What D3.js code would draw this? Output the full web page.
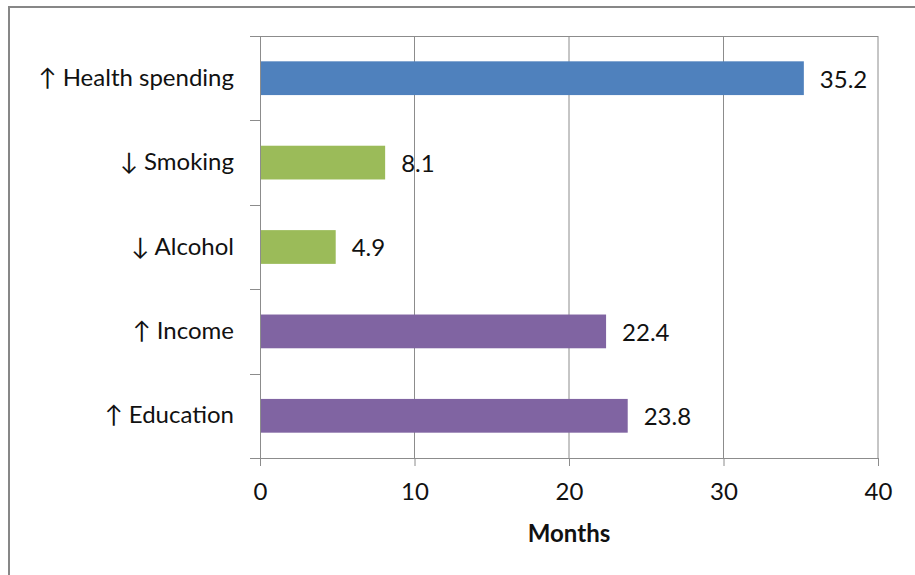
<!DOCTYPE html>
<html>
<head>
<meta charset="utf-8">
<script src="https://cdn.jsdelivr.net/npm/d3@7"></script>
<style>
  html, body { margin: 0; padding: 0; background: #fff; }
  svg { display: block; }
  text { font-family: Lato, "Open Sans", sans-serif; fill: #111; }
</style>
</head>
<body>
<svg id="chart" width="915" height="575"></svg>
<script>
// Months gained per factor
const categories = ["↑ Health spending", "↓ Smoking", "↓ Alcohol", "↑ Income", "↑ Education"];
const values = [35.2, 8.1, 4.9, 22.4, 23.8];
const barColors = ["#4F81BD", "#9BBB59", "#9BBB59", "#8064A2", "#8064A2"];
const xTicks = [0, 10, 20, 30, 40];
const xTitle = "Months";

const svg = d3.select("#chart");
const W = 915, H = 575;
const m = { left: 260, right: 37, top: 36, bottom: 117 };
const iw = W - m.left - m.right, ih = H - m.top - m.bottom;
const fontSize = 24;
const fontFamily = "Lato, 'Open Sans', sans-serif";

// outer frame
svg.append("rect")
  .attr("x", 9).attr("y", 7).attr("width", 920).attr("height", 590)
  .attr("fill", "none").attr("stroke", "#878787").attr("stroke-width", 2);

const x = d3.scaleLinear().domain([0, 40]).range([m.left, m.left + iw]);
const y = d3.scaleBand().domain(categories).range([m.top, m.top + ih]).paddingInner(0.6).paddingOuter(0.3);
const yb = d3.scaleBand().domain(categories).range([m.top, m.top + ih]);

const gridColor = "#8c8c8c";

// vertical gridlines
svg.append("g").selectAll("line").data(xTicks.slice(1)).join("line")
  .attr("x1", d => x(d)).attr("x2", d => x(d))
  .attr("y1", m.top).attr("y2", m.top + ih)
  .attr("stroke", gridColor).attr("stroke-width", 1);

// top edge of plot area
svg.append("line")
  .attr("x1", m.left - 10).attr("x2", x(40))
  .attr("y1", m.top + 0.5).attr("y2", m.top + 0.5)
  .attr("stroke", gridColor);

// bars
svg.append("g").selectAll("rect").data(categories).join("rect")
  .attr("x", x(0)).attr("y", d => y(d))
  .attr("width", (d, i) => x(values[i]) - x(0))
  .attr("height", y.bandwidth())
  .attr("fill", (d, i) => barColors[i]);

// value labels
svg.append("g").selectAll("text").data(categories).join("text")
  .attr("x", (d, i) => x(values[i]) + 16)
  .attr("y", d => y(d) + y.bandwidth() / 2 + 1)
  .attr("dy", "0.35em")
  .attr("font-size", fontSize)
  .text((d, i) => values[i].toFixed(1));

// category axis
const yAxis = d3.axisLeft(yb).tickSize(0).tickPadding(26);
const gy = svg.append("g").attr("transform", `translate(${m.left},0)`).call(yAxis);
gy.select(".domain").attr("stroke", gridColor);
gy.selectAll("text").attr("font-size", fontSize).attr("fill", "#111").style("font-family", fontFamily);
// tick marks between categories
svg.append("g").selectAll("line").data(categories.slice(1)).join("line")
  .attr("x1", m.left - 10).attr("x2", m.left)
  .attr("y1", d => Math.round(yb(d)) + 0.5).attr("y2", d => Math.round(yb(d)) + 0.5)
  .attr("stroke", gridColor);

// value axis
const xAxis = d3.axisBottom(x).tickValues(xTicks).tickSize(8).tickPadding(17).tickFormat(d3.format("d"));
const gx = svg.append("g").attr("transform", `translate(0,${m.top + ih})`).call(xAxis);
gx.select(".domain").remove();
gx.selectAll("line").attr("stroke", gridColor);
gx.selectAll("text").attr("font-size", fontSize).attr("fill", "#111").style("font-family", fontFamily);
svg.append("line")
  .attr("x1", m.left - 10).attr("x2", x(40))
  .attr("y1", m.top + ih + 0.5).attr("y2", m.top + ih + 0.5)
  .attr("stroke", gridColor);

svg.append("text")
  .attr("x", x(20)).attr("y", 542)
  .attr("text-anchor", "middle")
  .attr("font-size", fontSize).attr("font-weight", "bold")
  .text(xTitle);
</script>
</body>
</html>
